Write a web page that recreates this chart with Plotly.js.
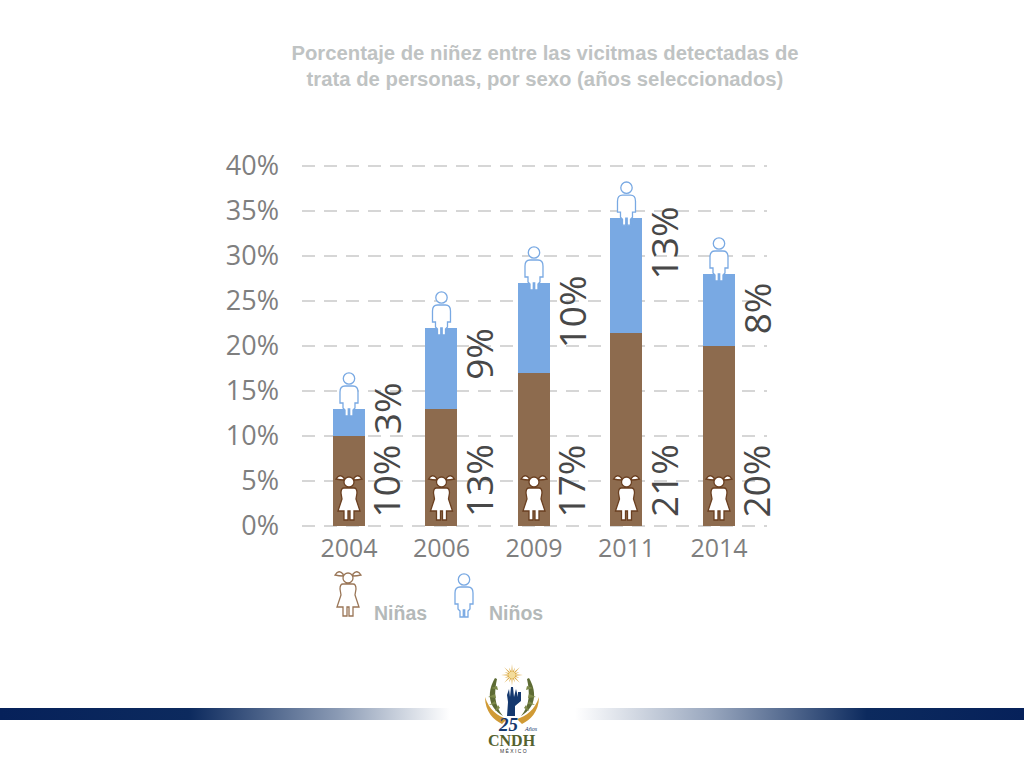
<!DOCTYPE html>
<html><head><meta charset="utf-8">
<script src="https://cdn.plot.ly/plotly-3.0.1.min.js"></script>
<style>html,body{margin:0;padding:0;background:#fff}#c{width:1024px;height:768px}</style>
</head><body><div id="c"></div>
<script>
const years = ['2004','2006','2009','2011','2014'];
const ninas = [10,13,17,21.4,20];
const ninos = [3,9,10,12.8,8];
const ninasLabels = ['10%','13%','17%','21%','20%'];
const ninosLabels = ['3%','9%','10%','13%','8%'];
const ninasLabelBase = [1,1,1,1,1];
const ninosLabelBase = [10.2,16.3,19.8,27.4,21.3];
const yTicks = [0,5,10,15,20,25,30,35,40];
const yTickLabels = ['0%','5%','10%','15%','20%','25%','30%','35%','40%'];

const W=1024,H=768;
const px=x=>x/W, py=y=>1-y/H;
const BROWN='#8d6b4e',BLUE='#79a9e3',TICK='#7f7f7f',LABEL='#484848';

function circle(cx,cy,r){const k=r*0.5523;
 return `M${cx-r},${cy} C${cx-r},${cy+k} ${cx-k},${cy+r} ${cx},${cy+r} C${cx+k},${cy+r} ${cx+r},${cy+k} ${cx+r},${cy} C${cx+r},${cy-k} ${cx+k},${cy-r} ${cx},${cy-r} C${cx-k},${cy-r} ${cx-r},${cy-k} ${cx-r},${cy} Z`;}
const boyBody='M-9,17 Q-9,23 -4,23 L4,23 Q9,23 9,17 L9,6 L6,6 L6,1 L4,-1 L4,-7 L0.7,-7 L0.7,0 L-0.7,0 L-0.7,-7 L-4,-7 L-4,-1 L-6,1 L-6,6 L-9,6 Z';
const boyPath=boyBody+' '+circle(0,30.5,5.7);
const girlBody='M-5,38 L5,38 Q8,38 8,33 L7,27 L11,15 L5,15 L5,6 L1,6 L1,15 L-1,15 L-1,6 L-5,6 L-5,15 L-11,15 L-7,27 L-8,33 Q-8,38 -5,38 Z';
const girlPath=girlBody+' '+circle(0,44,5)+' M-5,48 Q-9,53 -13,47 Q-9,46 -5,46 Z M5,48 Q9,53 13,47 Q9,46 5,46 Z';

const shapes=[];
years.forEach((y,i)=>{
 shapes.push({type:'path',xref:'x',yref:'y',xsizemode:'pixel',ysizemode:'pixel',xanchor:i,yanchor:ninas[i]+ninos[i],path:boyPath,fillcolor:'#fff',line:{color:BLUE,width:1.3}});
 shapes.push({type:'path',xref:'x',yref:'y',xsizemode:'pixel',ysizemode:'pixel',xanchor:i,yanchor:0,path:girlPath,fillcolor:'#fff',line:{color:'#6a3f20',width:1.3}});
});
// legend icons
shapes.push({type:'path',xref:'paper',yref:'paper',xsizemode:'pixel',ysizemode:'pixel',xanchor:px(348),yanchor:py(622),path:girlPath,fillcolor:'#fff',line:{color:'#9a7657',width:1.3}});
shapes.push({type:'path',xref:'paper',yref:'paper',xsizemode:'pixel',ysizemode:'pixel',xanchor:px(464),yanchor:py(610),path:boyPath,fillcolor:'#fff',line:{color:BLUE,width:1.3}});

// logo (drawn in page pixels)
function logoShape(path,fill,line){
 return {type:'path',xref:'paper',yref:'paper',xsizemode:'pixel',ysizemode:'pixel',xanchor:px(512),yanchor:py(700),path,fillcolor:fill,line:line||{width:0}};
}
let rays='';
for(let a=0;a<16;a++){const t=a*Math.PI/8,R=(a%2?8:11),w=0.22;
 rays+=`M${(3*Math.cos(t-w)).toFixed(2)},${(25+3*Math.sin(t-w)).toFixed(2)} L${(R*Math.cos(t)).toFixed(2)},${(25+R*Math.sin(t)).toFixed(2)} L${(3*Math.cos(t+w)).toFixed(2)},${(25+3*Math.sin(t+w)).toFixed(2)} Z `;}
shapes.push(logoShape(rays,'#d9a63c'));
shapes.push(logoShape(circle(0,25,3.5),'#f3dc9a'));
// gold bands
shapes.push(logoShape('M-27,3 C-27,-12 -18,-20 -10,-24 L-5,-19 C-14,-16 -23,-10 -27,3 Z','#d09a35'));
shapes.push(logoShape('M27,3 C27,-12 18,-20 10,-24 L5,-19 C14,-16 23,-10 27,3 Z','#d09a35'));
// laurels
shapes.push(logoShape('M-17,22 C-24,10 -26,-6 -9,-16 C-18,-6 -18,8 -15,21 Z','#5d6b34'));
shapes.push(logoShape('M17,22 C24,10 26,-6 9,-16 C18,-6 18,8 15,21 Z','#5d6b34'));
shapes.push(logoShape('M-21,12 L-14,10 L-15,14 Z M-24,3 L-16,2 L-17,6 Z M-23,-5 L-16,-4 L-17,-1 Z M-17,-11 L-12,-8 L-14,-5 Z','#7d8a4a'));
shapes.push(logoShape('M21,12 L14,10 L15,14 Z M24,3 L16,2 L17,6 Z M23,-5 L16,-4 L17,-1 Z M17,-11 L12,-8 L14,-5 Z','#7d8a4a'));
// hand
shapes.push(logoShape('M-5,-16 L-4,-2 L-5,5 L-3,11 L-2,3 L-1,13 L1,13 L2,3 L4,11 L6,3 L6,8 L9,8 L9,-1 L3,-6 L3,-16 Z','#14386e'));

const svg=`<svg xmlns="http://www.w3.org/2000/svg" width="1024" height="12"><defs><linearGradient id="a"><stop offset="0" stop-color="#06215a"/><stop offset=".42" stop-color="#0c2a5e"/><stop offset=".75" stop-color="#8a9ab4"/><stop offset="1" stop-color="#ffffff"/></linearGradient><linearGradient id="b"><stop offset="0" stop-color="#ffffff"/><stop offset=".3" stop-color="#9aa8bf"/><stop offset=".65" stop-color="#0c2a5e"/><stop offset="1" stop-color="#06215a"/></linearGradient></defs><rect x="0" y="0" width="450" height="12" fill="url(#a)"/><rect x="575" y="0" width="449" height="12" fill="url(#b)"/></svg>`;
const images=[{source:'data:image/svg+xml;base64,'+btoa(svg),xref:'paper',yref:'paper',x:0,y:py(708),sizex:1,sizey:12/H,sizing:'stretch',xanchor:'left',yanchor:'top',layer:'below'}];

const lblFont={family:'"Open Sans",sans-serif',size:37,color:LABEL};
const anns=[];
years.forEach((y,i)=>{
 anns.push({x:i,y:ninasLabelBase[i],xref:'x',yref:'y',xshift:37,text:ninasLabels[i],textangle:-90,showarrow:false,yanchor:'bottom',xanchor:'center',font:lblFont,borderpad:0,borderwidth:0});
 anns.push({x:i,y:ninosLabelBase[i],xref:'x',yref:'y',xshift:37,text:ninosLabels[i],textangle:-90,showarrow:false,yanchor:'bottom',xanchor:'center',font:lblFont,borderpad:0,borderwidth:0});
});
const legFont={family:'"Liberation Sans",Arial,sans-serif',size:19.5,color:'#b4b9b9'};
function note(x,y,text,font){anns.push({x:px(x),y:py(y),xref:'paper',yref:'paper',xanchor:'center',yanchor:'middle',text,showarrow:false,font,borderpad:0});}
note(400,613,'<b>Niñas</b>',legFont);
note(516,613,'<b>Niños</b>',legFont);
// logo text
note(508,724,'<b><i>25</i></b>',{family:'"Liberation Serif",serif',size:19,color:'#14386e'});
note(531,729,'<i>Años</i>',{family:'"Liberation Serif",serif',size:6,color:'#14386e'});
note(512,740,'<b>CNDH</b>',{family:'"Liberation Serif",serif',size:16,color:'#55622f'});
note(513,751,'M É X I C O',{family:'"Liberation Sans",sans-serif',size:5,color:'#333'});

Plotly.newPlot('c',[
 {type:'bar',name:'Niñas',x:years.map((_,i)=>i),y:ninas,marker:{color:BROWN},width:0.346,hoverinfo:'skip'},
 {type:'bar',name:'Niños',x:years.map((_,i)=>i),y:ninos,marker:{color:BLUE},width:0.346,hoverinfo:'skip'}
],{
 width:W,height:H,barmode:'stack',showlegend:false,
 paper_bgcolor:'#fff',plot_bgcolor:'rgba(0,0,0,0)',
 margin:{l:0,r:0,t:0,b:0},
 title:{text:'<b>Porcentaje de niñez entre las vicitmas detectadas de<br>trata de personas, por sexo (años seleccionados)</b>',
  x:545/W,y:1-60/H,xanchor:'center',yanchor:'top',xref:'container',yref:'container',
  font:{family:'"Liberation Sans",Arial,sans-serif',size:20.3,color:'#bfc3c3'}},
 xaxis:{domain:[302/W,767/W],range:[-0.508,4.519],tickmode:'array',tickvals:years.map((_,i)=>i),ticktext:years,
  showgrid:false,zeroline:false,showline:false,ticks:'',ticklabelstandoff:3,
  tickfont:{family:'"Open Sans",sans-serif',size:25,color:TICK}},
 yaxis:{domain:[1-527.8/H,1-164.2/H],range:[-0.2,40.2],tickmode:'array',tickvals:yTicks,ticktext:yTickLabels,
  showgrid:true,gridcolor:'#d6d6d6',gridwidth:1.5,griddash:'13px,9px',zeroline:false,showline:false,ticks:'',ticklabelstandoff:22,
  tickfont:{family:'"Open Sans",sans-serif',size:27,color:TICK}},
 shapes,annotations:anns,images
},{displayModeBar:false,staticPlot:true});
</script></body></html>
